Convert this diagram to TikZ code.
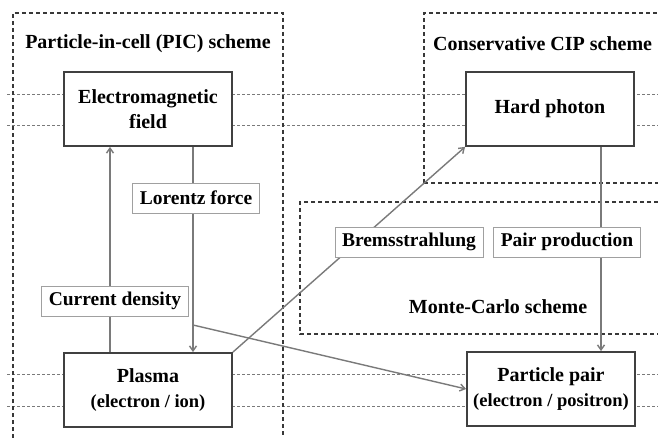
\documentclass[tikz,border=0pt]{standalone}
\usepackage{fontspec}
\setmainfont{Liberation Serif}
\usetikzlibrary{arrows.meta}
\definecolor{boxline}{HTML}{404040}
\definecolor{regionc}{HTML}{383838}
\definecolor{arrowc}{HTML}{7A7A7A}
\definecolor{labline}{HTML}{A0A0A0}
\definecolor{dotc}{HTML}{7A7A7A}
\begin{document}
\begin{tikzpicture}[x=1pt,y=-1pt,
  mainbox/.style={draw=boxline,line width=1.8pt,fill=white,minimum width=168pt,minimum height=74pt,align=center,inner sep=0pt,font=\fontsize{20}{25}\selectfont\bfseries},
  labbox/.style={draw=labline,line width=0.8pt,fill=white,minimum height=30pt,inner xsep=7pt,inner ysep=0pt,font=\fontsize{19.5}{22}\selectfont\bfseries},
  region/.style={draw=regionc,line width=1.2pt,dash pattern=on 4pt off 3pt},
  gridline/.style={draw=dotc,line width=0.8pt,dash pattern=on 3pt off 2pt},
  conn/.style={draw=arrowc,line width=1.4pt},
  arr/.style={conn,-{Straight Barb[length=5pt,width=7pt]}},
  title/.style={font=\fontsize{20}{24}\selectfont\bfseries,inner sep=0pt}
]
\useasboundingbox (0,0) rectangle (658,438);
\fill[white] (0,0) rectangle (658,438);
% background dotted lines
\draw[gridline] (7,94) -- (658,94);
\draw[gridline] (7,125) -- (658,125);
\draw[gridline] (7,374) -- (658,374);
\draw[gridline] (7,406) -- (658,406);
% region outlines
\draw[region] (13,438) -- (13,13) -- (283,13) -- (283,438);
\draw[region] (424,183) -- (424,13) -- (658,13);
\draw[region] (424,183) -- (658,183);
\draw[region] (658,202) -- (300,202) -- (300,334) -- (658,334);
% titles
\node[title] (t1) at (148,44) {Particle-in-cell (PIC) scheme};
\node[title,anchor=west] (t2) at (433,44) {Conservative CIP scheme};
\node[title] (t3) at (498,307) {Monte-Carlo scheme};
% main boxes
\node[mainbox] (em) at (148,109) {Electromagnetic\\field};
\node[mainbox] (hp) at (550,109) {Hard photon};
\node[mainbox] (pl) at (148,390) {Plasma\\{\fontsize{18.5}{22}\selectfont(electron / ion)}};
\node[mainbox] (pp) at (551,389) {Particle pair\\{\fontsize{18.5}{22}\selectfont(electron / positron)}};
% connectors
\draw[arr] ([xshift=-38pt]pl.north) -- ([xshift=-38pt]em.south);
\draw[arr] ([xshift=45pt]em.south) -- ([xshift=45pt]pl.north);
\coordinate (br) at (193,325);
\draw[arr] (br) -- (pp.west);
\draw[arr] (pl.north east) -- (hp.south west);
\draw[arr] ([xshift=51pt]hp.south) -- ([xshift=50pt]pp.north);
% labels
\node[labbox] (lf) at (196,198) {Lorentz force};
\node[labbox] (cd) at (115,301) {Current density};
\node[labbox] (bs) at (409,242) {Bremsstrahlung};
\node[labbox] (pp2) at (567,242) {Pair production};
\end{tikzpicture}
\end{document}
